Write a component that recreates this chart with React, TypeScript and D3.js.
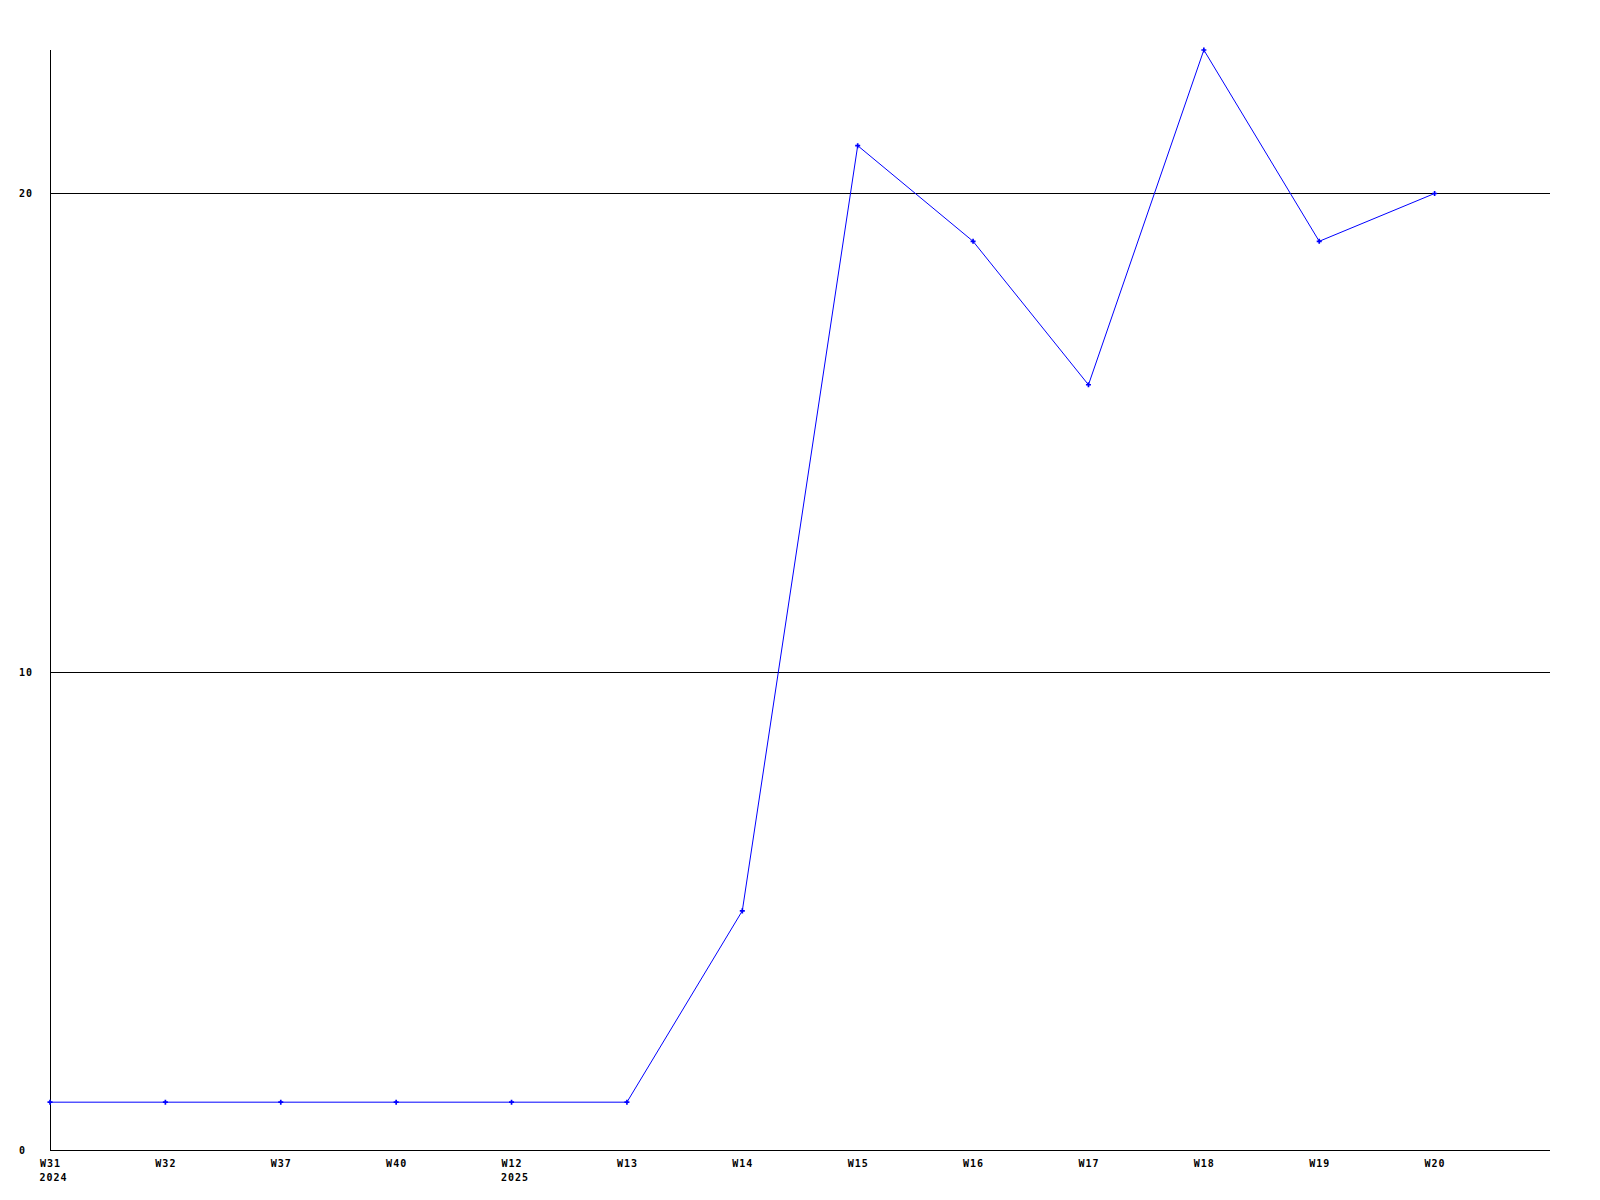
import React from "react";
import * as d3 from "d3";

const weeks = ["W31", "W32", "W37", "W40", "W12", "W13", "W14", "W15", "W16", "W17", "W18", "W19", "W20"];
const years = ["2024", "", "", "", "2025", "", "", "", "", "", "", "", ""];
const values = [1, 1, 1, 1, 1, 1, 5, 21, 19, 16, 23, 19, 20];
const yTicks = [0, 10, 20];

const W = 1600;
const H = 1200;
const left = 50;
const right = 1550;
const top = 50;
const bottom = 1150;

export default function App() {
  const x = d3
    .scaleLinear()
    .domain([0, weeks.length])
    .range([left, right]);
  const y = d3.scaleLinear().domain([0, 23]).range([bottom, top]);
  const line = d3
    .line<number>()
    .x((_, i) => x(i))
    .y((d) => y(d));
  const marker = d3.symbol().type(d3.symbolCross).size(14)() as string;
  const font = {
    fontFamily: "'DejaVu Sans Mono', monospace",
    fontWeight: 700,
    fontSize: 10,
    letterSpacing: 1,
  } as const;

  return (
    <svg
      width={W}
      height={H}
      style={{ position: "absolute", left: 0, top: 0, background: "#fff" }}
    >
      <rect x={0} y={0} width={W} height={H} fill="#fff" />
      {yTicks
        .filter((t) => t > 0)
        .map((t) => (
          <line
            key={"g" + t}
            x1={left}
            x2={right}
            y1={Math.round(y(t)) + 0.5}
            y2={Math.round(y(t)) + 0.5}
            stroke="#000"
            strokeWidth={1}
            shapeRendering="crispEdges"
          />
        ))}
      <line x1={left + 0.5} x2={left + 0.5} y1={top} y2={bottom + 0.5} stroke="#000" shapeRendering="crispEdges" />
      <line x1={left} x2={right} y1={bottom + 0.5} y2={bottom + 0.5} stroke="#000" shapeRendering="crispEdges" />
      {yTicks.map((t) => (
        <text key={"y" + t} x={19} y={Math.round(y(t)) + 3.5} {...font} fill="#000">
          {t}
        </text>
      ))}
      {weeks.map((w, i) => (
        <g key={"x" + i}>
          <text x={x(i) + 0.5} y={1167} textAnchor="middle" {...font} fill="#000">
            {w}
          </text>
          {years[i] && (
            <text x={x(i) + 3.5} y={1181} textAnchor="middle" {...font} fill="#000">
              {years[i]}
            </text>
          )}
        </g>
      ))}
      <path d={line(values) as string} fill="none" stroke="#0000ff" strokeWidth={1} />
      {values.map((v, i) => (
        <path
          key={"m" + i}
          d={marker}
          transform={`translate(${x(i)},${y(v)})`}
          fill="#0000ff"
        />
      ))}
    </svg>
  );
}
